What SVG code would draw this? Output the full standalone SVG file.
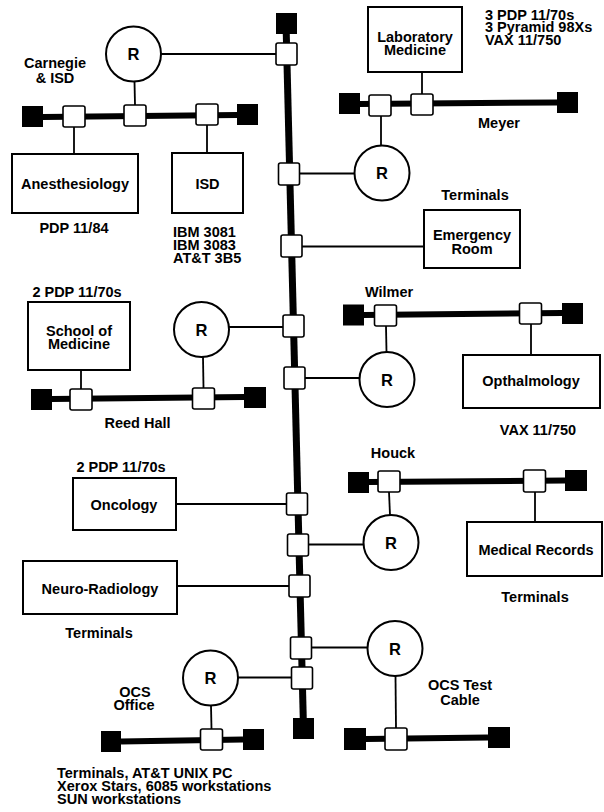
<svg xmlns="http://www.w3.org/2000/svg" width="604" height="812" viewBox="0 0 604 812">
<style>
.box{fill:#fff;stroke:#000;stroke-width:2}
.tap{fill:#fff;stroke:#000;stroke-width:1.6}
.term{fill:#000}
.bus{stroke:#000;stroke-width:6;fill:none}
.spine{stroke:#000;stroke-width:7;fill:none}
.link{stroke:#000;stroke-width:1.8;fill:none}
.rt{fill:#fff;stroke:#000;stroke-width:2}
text{font-family:"Liberation Sans",Arial,sans-serif;font-weight:bold;font-size:14.5px;fill:#000}
.c{text-anchor:middle}
.rl{font-size:16.5px;text-anchor:middle}
</style>
<rect width="604" height="812" fill="#fff"/>

<g id="connectors">
  <line class="link" x1="276" y1="54" x2="161" y2="54"/>
  <line class="link" x1="300" y1="173.5" x2="355" y2="173.5"/>
  <line class="link" x1="302" y1="246.5" x2="424" y2="246.5"/>
  <line class="link" x1="283" y1="327" x2="229" y2="327"/>
  <line class="link" x1="305" y1="378" x2="360" y2="378"/>
  <line class="link" x1="287" y1="504" x2="176" y2="504"/>
  <line class="link" x1="309" y1="544.5" x2="364" y2="544.5"/>
  <line class="link" x1="289" y1="586" x2="177" y2="586"/>
  <line class="link" x1="312" y1="647.5" x2="368" y2="647.5"/>
  <line class="link" x1="291" y1="677.5" x2="238" y2="677.5"/>
  <line class="link" x1="134.5" y1="81.5" x2="135" y2="105"/>
  <line class="link" x1="74" y1="127" x2="74" y2="154"/>
  <line class="link" x1="207" y1="125" x2="207" y2="153"/>
  <line class="link" x1="422" y1="72" x2="422" y2="94"/>
  <line class="link" x1="381" y1="116" x2="381" y2="146"/>
  <line class="link" x1="81" y1="370" x2="81" y2="389"/>
  <line class="link" x1="203" y1="357" x2="203.5" y2="388"/>
  <line class="link" x1="386" y1="326" x2="386.5" y2="352"/>
  <line class="link" x1="531" y1="324" x2="531" y2="355"/>
  <line class="link" x1="389" y1="492" x2="390" y2="515"/>
  <line class="link" x1="535" y1="492" x2="535" y2="522"/>
  <line class="link" x1="395.5" y1="676" x2="396" y2="728"/>
  <line class="link" x1="211" y1="705.5" x2="211.5" y2="729"/>
</g>

<g id="backbone">
  <line class="spine" x1="286" y1="23" x2="303.5" y2="728"/>
  <rect class="term" x="276" y="13" width="21" height="21"/>
  <rect class="term" x="293" y="718" width="21" height="21"/>
  <rect class="tap" x="276" y="43" width="21" height="22" rx="2"/>
  <rect class="tap" x="278.5" y="163" width="21" height="22" rx="2"/>
  <rect class="tap" x="281" y="235" width="21" height="22" rx="2"/>
  <rect class="tap" x="283" y="315" width="21" height="22" rx="2"/>
  <rect class="tap" x="284" y="367" width="21" height="22" rx="2"/>
  <rect class="tap" x="286.5" y="493" width="21" height="22" rx="2"/>
  <rect class="tap" x="287.5" y="534" width="21" height="22" rx="2"/>
  <rect class="tap" x="289" y="575" width="21" height="22" rx="2"/>
  <rect class="tap" x="290.5" y="637" width="21" height="22" rx="2"/>
  <rect class="tap" x="291.5" y="667" width="21" height="22" rx="2"/>
</g>

<g id="bus-carnegie">
  <line class="bus" x1="43" y1="117" x2="237" y2="115"/>
  <rect class="term" x="22" y="106" width="21" height="21"/>
  <rect class="term" x="237" y="104" width="21" height="21"/>
  <rect class="tap" x="63" y="106" width="22" height="21" rx="2"/>
  <rect class="tap" x="124" y="105" width="22" height="21" rx="2"/>
  <rect class="tap" x="196" y="104" width="22" height="21" rx="2"/>
  <text x="55" y="68" class="c">Carnegie</text>
  <text x="55" y="82.5" class="c">&amp; ISD</text>
</g>
<g id="router-carnegie">
  <circle class="rt" cx="133.5" cy="54" r="27.5"/>
  <text x="133.5" y="60" class="rl">R</text>
</g>
<g id="anesthesiology">
  <rect class="box" x="12" y="154" width="126" height="59"/>
  <text x="75" y="189" class="c">Anesthesiology</text>
  <text x="74" y="233" class="c">PDP 11/84</text>
</g>
<g id="isd">
  <rect class="box" x="172" y="153" width="71" height="60"/>
  <text x="207.5" y="189" class="c">ISD</text>
  <text x="173" y="237">IBM 3081</text>
  <text x="173" y="250">IBM 3083</text>
  <text x="173" y="263">AT&amp;T 3B5</text>
</g>

<g id="lab-medicine">
  <rect class="box" x="368" y="7" width="94" height="65"/>
  <text x="415" y="42" class="c">Laboratory</text>
  <text x="415" y="55" class="c">Medicine</text>
  <text x="485" y="19.5">3 PDP 11/70s</text>
  <text x="485" y="32">3 Pyramid 98Xs</text>
  <text x="485" y="44.5">VAX 11/750</text>
</g>
<g id="bus-meyer">
  <line class="bus" x1="360" y1="104" x2="557" y2="102.5"/>
  <rect class="term" x="339" y="93" width="21" height="21"/>
  <rect class="term" x="557" y="92" width="21" height="21"/>
  <rect class="tap" x="369" y="95" width="22" height="21" rx="2"/>
  <rect class="tap" x="411" y="94" width="22" height="21" rx="2"/>
  <text x="499" y="128" class="c">Meyer</text>
</g>
<g id="router-meyer">
  <circle class="rt" cx="382" cy="173" r="27.5"/>
  <text x="382" y="179" class="rl">R</text>
</g>
<g id="emergency-room">
  <text x="475" y="200" class="c">Terminals</text>
  <rect class="box" x="424" y="210" width="96" height="58"/>
  <text x="472" y="240" class="c">Emergency</text>
  <text x="472" y="254" class="c">Room</text>
</g>

<g id="school-of-medicine">
  <text x="77" y="297" class="c">2 PDP 11/70s</text>
  <rect class="box" x="28" y="302" width="102" height="68"/>
  <text x="79" y="336" class="c">School of</text>
  <text x="79" y="349" class="c">Medicine</text>
</g>
<g id="router-reed">
  <circle class="rt" cx="201.5" cy="329.5" r="27.5"/>
  <text x="201.5" y="335.5" class="rl">R</text>
</g>
<g id="bus-reed">
  <line class="bus" x1="52" y1="399" x2="244" y2="397"/>
  <rect class="term" x="31" y="389" width="21" height="21"/>
  <rect class="term" x="244" y="387" width="22" height="21"/>
  <rect class="tap" x="70" y="389" width="22" height="21" rx="2"/>
  <rect class="tap" x="192.5" y="388" width="22" height="21" rx="2"/>
  <text x="137.5" y="428" class="c">Reed Hall</text>
</g>

<g id="bus-wilmer">
  <text x="389" y="297" class="c">Wilmer</text>
  <line class="bus" x1="364" y1="315" x2="562" y2="313"/>
  <rect class="term" x="343" y="304.5" width="21" height="21"/>
  <rect class="term" x="562" y="303" width="21" height="21"/>
  <rect class="tap" x="374.5" y="305" width="22" height="21" rx="2"/>
  <rect class="tap" x="519.5" y="303" width="22" height="21" rx="2"/>
</g>
<g id="router-wilmer">
  <circle class="rt" cx="387" cy="379.5" r="27.5"/>
  <text x="387" y="385.5" class="rl">R</text>
</g>
<g id="opthalmology">
  <rect class="box" x="463" y="355" width="137" height="53"/>
  <text x="531" y="386" class="c">Opthalmology</text>
  <text x="538" y="435" class="c">VAX 11/750</text>
</g>

<g id="oncology">
  <text x="121" y="472" class="c">2 PDP 11/70s</text>
  <rect class="box" x="73" y="478" width="103" height="52"/>
  <text x="124" y="510" class="c">Oncology</text>
</g>

<g id="bus-houck">
  <text x="393" y="458" class="c">Houck</text>
  <line class="bus" x1="369" y1="482" x2="565" y2="480.5"/>
  <rect class="term" x="348" y="472" width="21" height="21"/>
  <rect class="term" x="565" y="470" width="22" height="21"/>
  <rect class="tap" x="378" y="471" width="22" height="21" rx="2"/>
  <rect class="tap" x="523.5" y="470" width="22" height="22" rx="2"/>
</g>
<g id="router-houck">
  <circle class="rt" cx="391" cy="542.5" r="27.5"/>
  <text x="391" y="548.5" class="rl">R</text>
</g>
<g id="medical-records">
  <rect class="box" x="467" y="522" width="135" height="54"/>
  <text x="536" y="555" class="c">Medical Records</text>
  <text x="535" y="602" class="c">Terminals</text>
</g>

<g id="neuro-radiology">
  <rect class="box" x="23" y="561" width="154" height="53"/>
  <text x="100" y="594" class="c">Neuro-Radiology</text>
  <text x="99" y="638" class="c">Terminals</text>
</g>

<g id="router-ocs-office">
  <circle class="rt" cx="210.5" cy="678" r="27.5"/>
  <text x="210.5" y="684" class="rl">R</text>
</g>
<g id="bus-ocs-office">
  <text x="135" y="697" class="c">OCS</text>
  <text x="134" y="710" class="c">Office</text>
  <line class="bus" x1="121" y1="741.5" x2="243" y2="739.5"/>
  <rect class="term" x="101" y="731" width="20" height="21"/>
  <rect class="term" x="243" y="729" width="21" height="21"/>
  <rect class="tap" x="200.5" y="729" width="22" height="21" rx="2"/>
  <text x="57" y="777.5">Terminals, AT&amp;T UNIX PC</text>
  <text x="57" y="790.5">Xerox Stars, 6085 workstations</text>
  <text x="57" y="803.5">SUN workstations</text>
</g>

<g id="router-ocs-test">
  <circle class="rt" cx="395" cy="648.5" r="27.5"/>
  <text x="395" y="654.5" class="rl">R</text>
</g>
<g id="bus-ocs-test">
  <text x="460" y="690" class="c">OCS Test</text>
  <text x="460" y="705" class="c">Cable</text>
  <line class="bus" x1="366" y1="739" x2="488" y2="737.5"/>
  <rect class="term" x="344" y="728" width="22" height="22"/>
  <rect class="term" x="488" y="727" width="22" height="21"/>
  <rect class="tap" x="385" y="728" width="22" height="22" rx="2"/>
</g>
</svg>
